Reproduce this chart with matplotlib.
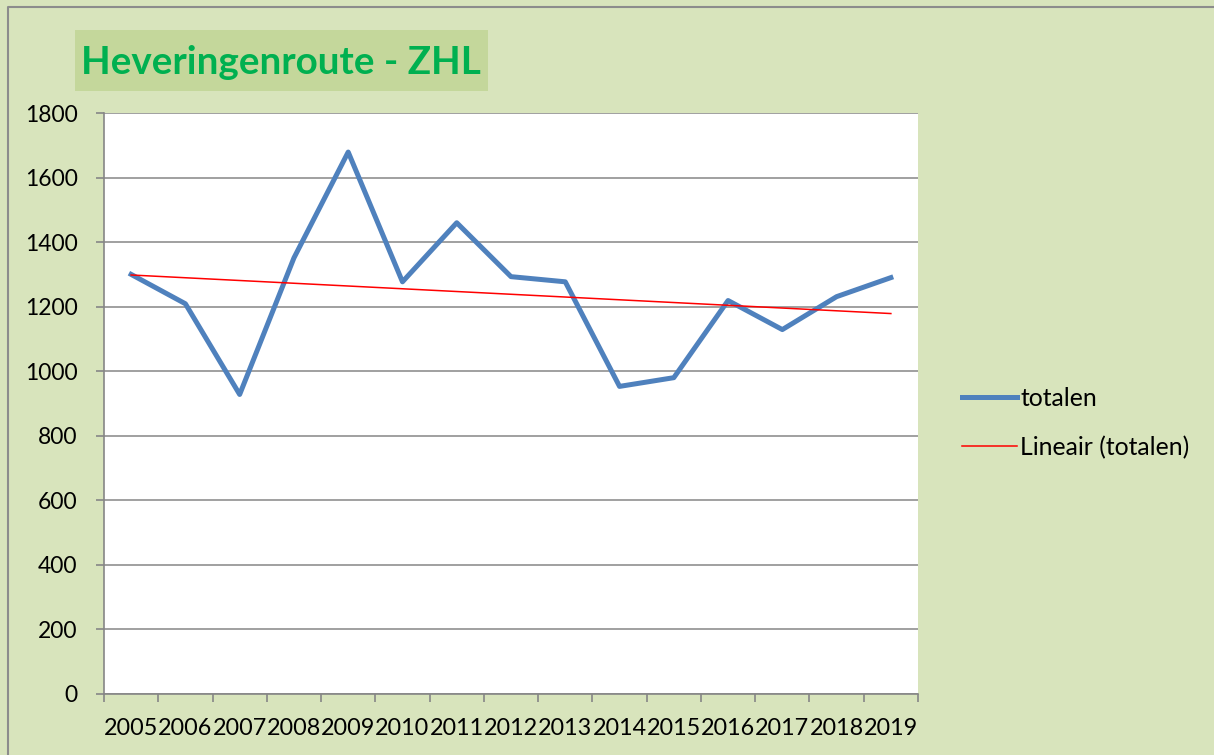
import numpy as np
import matplotlib.pyplot as plt
from matplotlib.patches import Rectangle
from matplotlib.lines import Line2D

# data
years = ['2005', '2006', '2007', '2008', '2009', '2010', '2011', '2012',
         '2013', '2014', '2015', '2016', '2017', '2018', '2019']
totalen = [1300, 1209, 928, 1351, 1679, 1277, 1460, 1293,
           1277, 953, 980, 1219, 1129, 1231, 1290]
yticks = [0, 200, 400, 600, 800, 1000, 1200, 1400, 1600, 1800]

plt.rcParams['font.family'] = ['Lato', 'DejaVu Sans']

W, H = 1214, 755
bg = '#D8E4BC'
fig = plt.figure(figsize=(W / 100, H / 100), dpi=100, facecolor=bg)

# outer frame (only left and top visible)
fig.add_artist(Line2D([8 / W, 8 / W, 1], [0, 1 - 7 / H, 1 - 7 / H],
                      transform=fig.transFigure, color='#8C8C8C', lw=1.5))

ax = fig.add_axes([104 / W, 1 - 694 / H, (918 - 104) / W, (694 - 113) / H])
ax.set_facecolor('white')

x = np.arange(len(years))
ax.plot(x, totalen, color='#4F81BD', lw=3.6, solid_joinstyle='round',
        label='totalen', zorder=3)

# linear trendline
slope, icpt = np.polyfit(x, totalen, 1)
ax.plot(x, slope * x + icpt, color='#FF0000', lw=1.1, label='Lineair (totalen)', zorder=4)

ax.set_xlim(-0.5, len(years) - 0.5)
ax.set_ylim(0, 1800)
ax.set_yticks(yticks)
ax.yaxis.grid(True, color='#868686', lw=1.1)
ax.set_axisbelow(True)

ax.set_xticks(x)
ax.set_xticklabels(years)
ax.set_xticks(np.arange(-0.5, len(years)), minor=True)
ax.tick_params(axis='x', which='major', length=0, pad=17, labelsize=16.8)
ax.tick_params(axis='x', which='minor', length=6, width=1.2, color='#868686', direction='out')
ax.tick_params(axis='y', length=6, width=1.2, color='#868686', pad=13, labelsize=16.5)

for s in ['top', 'right']:
    ax.spines[s].set_visible(False)
for s in ['left', 'bottom']:
    ax.spines[s].set_color('#868686')
    ax.spines[s].set_linewidth(1.2)

# title box
fig.add_artist(Rectangle((75 / W, 1 - 91 / H), (488 - 75) / W, (91 - 30) / H,
                         transform=fig.transFigure, facecolor='#C4D79B',
                         edgecolor='none'))
fig.text(281 / W, 1 - 62 / H, 'Heveringenroute - ZHL', ha='center', va='center',
         fontsize=27.8, fontweight='bold', color='#00B050')

ax.legend(loc='center left', bbox_to_anchor=(940 / W, 1 - 423 / H),
          bbox_transform=fig.transFigure, frameon=False, fontsize=17.8,
          handlelength=2.2, handletextpad=0.15, labelspacing=1.05)

plt.savefig('out.png', dpi=100, facecolor=bg)
